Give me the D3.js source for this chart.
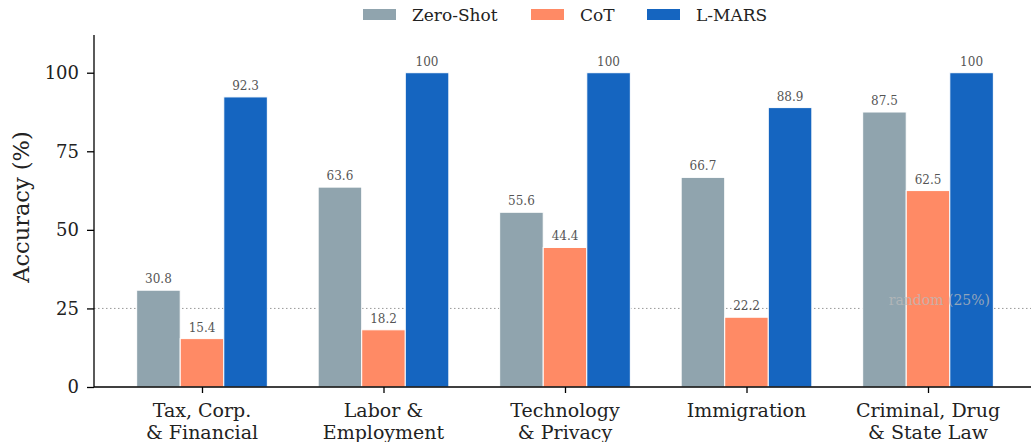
<!DOCTYPE html>
<html><head><meta charset="utf-8">
<script src="https://cdn.jsdelivr.net/npm/d3@7"></script>
<style>body{margin:0;background:#fff}svg{display:block}</style>
</head><body>
<svg id="c" width="1031" height="442"></svg>
<script>
const categories = [["Tax, Corp.","& Financial"],["Labor &","Employment"],["Technology","& Privacy"],["Immigration"],["Criminal, Drug","& State Law"]];
const seriesNames = ["Zero-Shot","CoT","L-MARS"];
const zeroShot = [30.8, 63.6, 55.6, 66.7, 87.5];
const cot = [15.4, 18.2, 44.4, 22.2, 62.5];
const lmars = [92.3, 100, 100, 88.9, 100];
const colors = ["#90A4AE","#FF8A65","#1565C0"];
const yTicks = [0,25,50,75,100];
const labelsTxt = [["30.8","63.6","55.6","66.7","87.5"],["15.4","18.2","44.4","22.2","62.5"],["92.3","100","100","88.9","100"]];

const series = [zeroShot, cot, lmars];
const svg = d3.select("#c");
const serif = "DejaVu Serif";
const x = d3.scaleLinear().domain([-0.595, 4.595]).range([94, 1036]);
const y = d3.scaleLinear().domain([0, 112]).range([387, 35]);
const bw = 0.24;

// random line
svg.append("line").attr("x1", x(-0.595)).attr("x2", 1031).attr("y1", y(25)).attr("y2", y(25))
  .attr("stroke", "#999").attr("stroke-width", 1).attr("stroke-dasharray", "1.5,2.5");

series.forEach((s, si) => {
  svg.append("g").selectAll("rect").data(s).join("rect")
    .attr("x", (d, i) => x(i + (si - 1) * bw - bw / 2))
    .attr("width", x(bw) - x(0))
    .attr("y", d => y(d)).attr("height", d => y(0) - y(d))
    .attr("fill", colors[si]).attr("stroke", "#fff").attr("stroke-width", 1);
  svg.append("g").selectAll("text").data(s).join("text")
    .attr("x", (d, i) => x(i + (si - 1) * bw))
    .attr("y", d => y(d) - 7)
    .attr("text-anchor", "middle").attr("font-family", serif).attr("font-size", 12)
    .attr("fill", "#555").text((d, i) => labelsTxt[si][i]);
});

svg.append("text").attr("x", 990).attr("y", y(25) - 3).attr("text-anchor", "end")
  .attr("font-family", serif).attr("font-size", 14).attr("fill", "#bbb").attr("opacity", 0.75)
  .text("random (25%)");

// axes
const ya = svg.append("g").attr("transform", "translate(94,0)")
  .call(d3.axisLeft(y).tickValues(yTicks).tickSize(7).tickPadding(8).tickFormat(d3.format("d")));
ya.select(".domain").attr("d", `M0,${y(112)}V${y(0)}`).attr("stroke", "#000").attr("stroke-width", 1.3);
ya.selectAll("text").attr("font-family", serif).attr("font-size", 18).attr("fill", "#222");
ya.selectAll(".tick line").attr("stroke", "#000").attr("stroke-width", 1.3);

const xa = svg.append("g").attr("transform", `translate(0,${y(0)})`)
  .call(d3.axisBottom(x).tickValues([0,1,2,3,4]).tickSize(6).tickFormat(""));
xa.select(".domain").attr("d", `M94,0H1036`).attr("stroke", "#000").attr("stroke-width", 1.3);
xa.selectAll(".tick line").attr("stroke", "#000").attr("stroke-width", 1.3);

categories.forEach((lines, i) => {
  const t = svg.append("text").attr("text-anchor", "middle").attr("font-family", serif)
    .attr("font-size", 19).attr("fill", "#222");
  lines.forEach((l, j) => t.append("tspan").attr("x", x(i)).attr("y", 417 + j * 22).text(l));
});

svg.append("text").attr("transform", "translate(29,207) rotate(-90)").attr("text-anchor", "middle")
  .attr("font-family", serif).attr("font-size", 22.5).attr("fill", "#222").text("Accuracy (%)");

// legend
const lx = [363, 531, 647];
seriesNames.forEach((n, i) => {
  svg.append("rect").attr("x", lx[i]).attr("y", 9).attr("width", 33).attr("height", 11).attr("fill", colors[i]);
  svg.append("text").attr("x", lx[i] + 49).attr("y", 21).attr("font-family", serif)
    .attr("font-size", 17).attr("fill", "#222").text(n);
});
</script>
</body></html>
